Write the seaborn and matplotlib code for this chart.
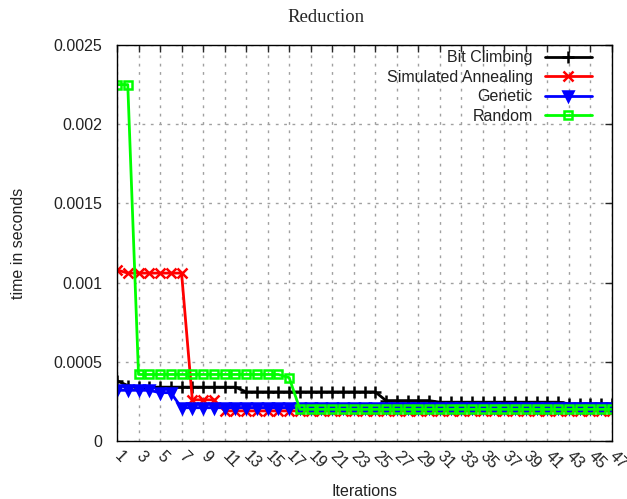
import numpy as np
import pandas as pd
import seaborn as sns
import matplotlib.pyplot as plt

sns.set_style("white")
plt.rcParams['font.family'] = ['Liberation Sans', 'DejaVu Sans']

iterations = list(range(1, 48))

bit_climbing = ([0.00038, 0.00035] + [0.00034] * 10 + [0.00031] * 13
                + [0.000255] * 5 + [0.000245] * 12 + [0.000235] * 5)
simulated_annealing = [0.00108] + [0.00106] * 6 + [0.00026] * 3 + [0.00019] * 37
genetic = [0.00032] * 4 + [0.000305] * 2 + [0.00021] * 41
random_search = [0.00225] * 2 + [0.00042] * 14 + [0.0004] + [0.0002] * 30

series = {
    'Bit Climbing': (bit_climbing, 'black', '+', 9),
    'Simulated Annealing': (simulated_annealing, 'red', 'x', 7),
    'Genetic': (genetic, 'blue', 'v', 7),
    'Random': (random_search, '#00ff00', 's', 6),
}

fs = 11.5
txt = '#222222'

fig = plt.figure(figsize=(6.27, 4.99), dpi=100)
ax = fig.add_axes([117 / 627, 1 - 441 / 499, 495 / 627, 396 / 499])

pos = np.arange(len(iterations))
for name, (vals, col, mk, ms) in series.items():
    df = pd.DataFrame({'pos': pos, 'val': vals})
    sns.lineplot(data=df, x='pos', y='val', ax=ax, color=col, marker=mk,
                 markersize=ms, linewidth=2, label=name,
                 markerfacecolor='none' if mk == 's' else col,
                 markeredgecolor=col, markeredgewidth=1.8)

ax.set_xlim(0, len(iterations) - 1)
ax.set_ylim(0, 0.0025)
ax.set_xticks(pos[::2])
ax.set_xticklabels([str(i) for i in iterations[::2]], rotation=-45,
                   ha='left', va='center', rotation_mode='anchor')
ax.set_yticks([0, 0.0005, 0.001, 0.0015, 0.002, 0.0025])
ax.set_yticklabels(['0', '0.0005', '0.001', '0.0015', '0.002', '0.0025'])
ax.tick_params(direction='in', top=True, right=True, length=5, width=1,
               labelsize=fs, labelcolor=txt, pad=10.5)
ax.tick_params(axis='x', pad=9)
ax.grid(True, color='#a0a0a0', linestyle=(0, (2, 4)), linewidth=1)
for s in ax.spines.values():
    s.set_color('black')
    s.set_linewidth(1)

ax.set_xlabel('Iterations', fontsize=fs, color=txt, labelpad=9)
ax.set_ylabel('time in seconds', fontsize=fs, color=txt, labelpad=20)
fig.text(326 / 627, 1 - 17 / 499, 'Reduction', family='Liberation Serif',
         fontsize=13.5, ha='center', va='center')

ax.legend(loc='upper right', bbox_to_anchor=(1 - 14 / 495, 1 + 1 / 396),
          frameon=False, markerfirst=False, fontsize=fs, handlelength=2.9,
          labelspacing=0.28, borderaxespad=0, labelcolor=txt)
for t in ax.get_legend().get_texts():
    t.set_ha('right')

fig.savefig('out.png', dpi=100)
